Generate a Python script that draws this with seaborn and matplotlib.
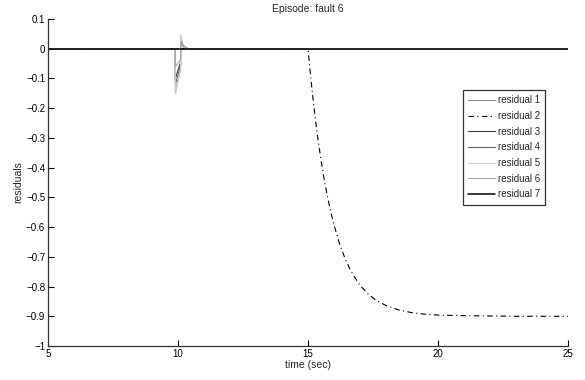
import matplotlib
matplotlib.use("Agg")
import matplotlib.pyplot as plt
import seaborn as sns
import pandas as pd

sns.set_theme(style="white")
plt.rcParams['font.family'] = ['Liberation Sans', 'DejaVu Sans']

# ---- data ----
t_spike = [5, 9.9, 9.9, 10.1, 10.1, 10.15, 10.2, 10.3, 10.4, 25]
r1 = [0, 0, -0.15, -0.065, 0.045, 0.025, 0.013, 0.004, 0, 0]
r3 = [0, 0, -0.10, -0.045, 0.030, 0.017, 0.009, 0.003, 0, 0]
r4 = [0, 0, -0.12, -0.055, 0.038, 0.021, 0.011, 0.003, 0, 0]
r5 = [0, 0, -0.15, -0.065, 0.045, 0.025, 0.013, 0.004, 0, 0]
r6 = [0, 0, -0.06, -0.035, 0.020, 0.011, 0.006, 0.002, 0, 0]

t2 = [5, 15, 15.1, 15.2, 15.3, 15.4, 15.5, 15.6, 15.7, 15.8, 15.9, 16.0,
      16.2, 16.4, 16.6, 16.8, 17.0, 17.3, 17.6, 18.0, 18.5, 19.0, 19.5,
      20, 21, 22, 23, 25]
r2 = [0, 0, -0.092, -0.174, -0.248, -0.315, -0.374, -0.428, -0.476, -0.519,
      -0.558, -0.593, -0.652, -0.700, -0.739, -0.770, -0.796, -0.824, -0.845,
      -0.864, -0.879, -0.888, -0.893, -0.896, -0.898, -0.899, -0.900, -0.900]

t7 = [5, 25]
r7 = [0, 0]

labels = ["residual 1", "residual 2", "residual 3", "residual 4",
          "residual 5", "residual 6", "residual 7"]
colors = ["#8c8c8c", "#000000", "#3c3c3c", "#646464", "#cfcfcf", "#a8a8a8", "#000000"]
styles = ["-", (0, (5, 3, 1, 3)), "-", "-", "-", "-", "-"]
widths = [0.8, 0.8, 0.8, 0.8, 0.8, 0.8, 1.1]

series = [(t_spike, r1), (t2, r2), (t_spike, r3), (t_spike, r4),
          (t_spike, r5), (t_spike, r6), (t7, r7)]

fig = plt.figure(figsize=(5.85, 3.8), dpi=100)
ax = fig.add_axes([0.082, 0.0895, 0.889, 0.8605])

for (t, r), lab, c, ls, lw in zip(series, labels, colors, styles, widths):
    df = pd.DataFrame({"time": t, "val": r})
    sns.lineplot(data=df, x="time", y="val", ax=ax, color=c, linestyle=ls,
                 linewidth=lw, label=lab, sort=False, estimator=None)

ax.set_xlim(5, 25)
ax.set_ylim(-1, 0.1)
ax.set_xticks([5, 10, 15, 20, 25])
ax.set_yticks([-1, -0.9, -0.8, -0.7, -0.6, -0.5, -0.4, -0.3, -0.2, -0.1, 0, 0.1])
ax.set_yticklabels(["\u22121", "\u22120.9", "\u22120.8", "\u22120.7", "\u22120.6", "\u22120.5",
                    "\u22120.4", "\u22120.3", "\u22120.2", "\u22120.1", "0", "0.1"])
ax.tick_params(direction="in", length=4, width=0.8, labelsize=7, colors="#000000",
               left=True, bottom=True, pad=2)
for s in ["top", "right"]:
    ax.spines[s].set_visible(False)
for s in ["left", "bottom"]:
    ax.spines[s].set_color("#333333")
    ax.spines[s].set_linewidth(0.9)

ax.set_xlabel("time (sec)", fontsize=7.5, labelpad=1)
ax.set_ylabel("residuals", fontsize=7.5, labelpad=2)
ax.set_title("Episode: fault 6", fontsize=7.5, pad=5)

leg = ax.legend(loc="upper left", bbox_to_anchor=(463 / 585, 1 - 90 / 380),
                bbox_transform=fig.transFigure, fontsize=7, frameon=True,
                fancybox=False, edgecolor="#000000", handlelength=2.7,
                handletextpad=0.3, labelspacing=0.58, borderpad=0.55,
                borderaxespad=0)
leg.get_frame().set_linewidth(0.9)

fig.savefig("out.png", dpi=100)
